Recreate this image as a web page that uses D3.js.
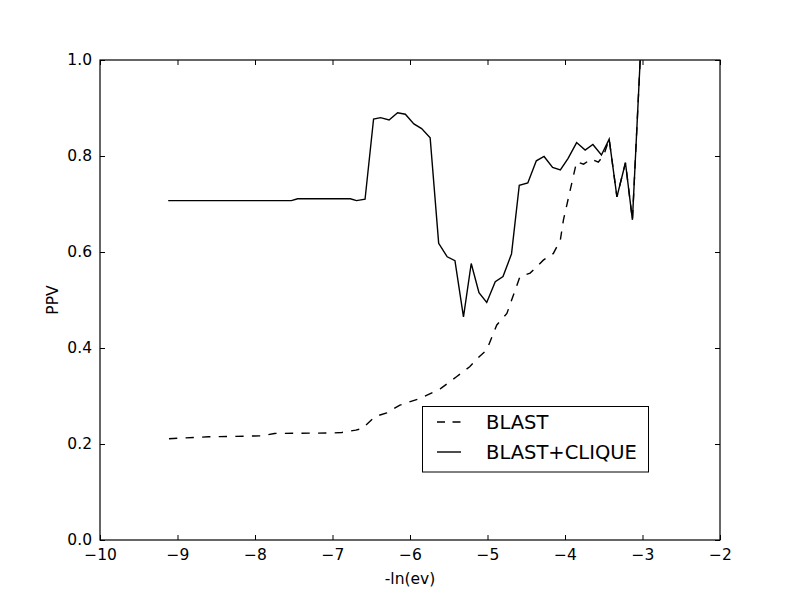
<!DOCTYPE html>
<html><head><meta charset="utf-8">
<script src="https://cdn.jsdelivr.net/npm/d3@7"></script>
<style>body{margin:0;background:#fff}text{font-family:"DejaVu Sans",sans-serif}</style>
</head><body>
<svg id="c" width="800" height="600"></svg>
<script>
const xTicks = [-10,-9,-8,-7,-6,-5,-4,-3,-2];
const yTicks = [0.0,0.2,0.4,0.6,0.8,1.0];
const seriesNames = ["BLAST","BLAST+CLIQUE"];

const blastX = [-9.11,-8.6,-7.9,-7.75,-7.0,-6.88,-6.70,-6.62,-6.45,-6.30,-6.13,-5.87,-5.61,-5.40,-5.23,-5.10,-5.01,-4.88,-4.75,-4.58,-4.45,-4.28,-4.15,-4.06,-4.02,-3.85,-3.76,-3.66,-3.57,-3.50,-3.43,-3.33,-3.22,-3.13,-3.03];
const blastY = [0.211,0.215,0.217,0.222,0.223,0.224,0.229,0.232,0.257,0.265,0.281,0.295,0.315,0.340,0.361,0.383,0.396,0.448,0.472,0.549,0.556,0.583,0.597,0.625,0.667,0.788,0.783,0.794,0.787,0.802,0.835,0.715,0.786,0.667,1.0];

const cliqueX = [-9.12,-7.53,-7.45,-6.77,-6.69,-6.58,-6.47,-6.38,-6.27,-6.16,-6.06,-5.95,-5.85,-5.74,-5.63,-5.52,-5.42,-5.31,-5.21,-5.11,-5.01,-4.90,-4.80,-4.69,-4.59,-4.48,-4.37,-4.27,-4.16,-4.06,-3.96,-3.85,-3.74,-3.64,-3.53,-3.43,-3.33,-3.22,-3.13,-3.03];
const cliqueY = [0.707,0.707,0.711,0.711,0.707,0.710,0.877,0.880,0.875,0.890,0.887,0.867,0.857,0.838,0.618,0.590,0.582,0.465,0.576,0.515,0.495,0.538,0.549,0.596,0.739,0.744,0.790,0.799,0.776,0.771,0.795,0.828,0.8125,0.824,0.802,0.835,0.715,0.786,0.667,1.0];

const L=100,R=720,T=60,B=540;
const svg=d3.select("#c");
const x=d3.scaleLinear().domain([-10,-2]).range([L,R]);
const y=d3.scaleLinear().domain([0,1]).range([B,T]);

svg.append("defs").append("clipPath").attr("id","clip").append("rect")
  .attr("x",L).attr("y",T).attr("width",R-L).attr("height",B-T);

const line=d3.line().x(d=>x(d[0])).y(d=>y(d[1]));
const g=svg.append("g").attr("clip-path","url(#clip)");
g.append("path").datum(blastX.map((v,i)=>[v,blastY[i]]))
  .attr("d",line).attr("fill","none").attr("stroke","#000").attr("stroke-width",1.4)
  .attr("stroke-dasharray","8.3,8.3");
g.append("path").datum(cliqueX.map((v,i)=>[v,cliqueY[i]]))
  .attr("d",line).attr("fill","none").attr("stroke","#000").attr("stroke-width",1.4);

const tl=5;
const xb=svg.append("g").attr("transform",`translate(0,${B})`)
  .call(d3.axisBottom(x).tickValues(xTicks).tickSizeInner(-tl).tickSizeOuter(0).tickPadding(9).tickFormat(d=>d3.format("d")(d).replace("-","\u2212")));
const xt=svg.append("g").attr("transform",`translate(0,${T})`)
  .call(d3.axisTop(x).tickValues(xTicks).tickSizeInner(-tl).tickSizeOuter(0).tickFormat(""));
const yl=svg.append("g").attr("transform",`translate(${L},0)`)
  .call(d3.axisLeft(y).tickValues(yTicks).tickSizeInner(-tl).tickSizeOuter(0).tickPadding(8).tickFormat(d3.format(".1f")));
const yr=svg.append("g").attr("transform",`translate(${R},0)`)
  .call(d3.axisRight(y).tickValues(yTicks).tickSizeInner(-tl).tickSizeOuter(0).tickFormat(""));
[xb,xt,yl,yr].forEach(a=>{a.select(".domain").remove();a.selectAll("line").attr("stroke","#000");
  a.selectAll("text").attr("font-family","DejaVu Sans").attr("font-size",15.5).attr("fill","#000");});

svg.append("rect").attr("x",L).attr("y",T).attr("width",R-L).attr("height",B-T)
  .attr("fill","none").attr("stroke","#000").attr("stroke-width",1.2);

svg.append("text").attr("x",(L+R)/2).attr("y",584).attr("text-anchor","middle")
  .attr("font-size",15.5).text("-ln(ev)");
svg.append("text").attr("transform","translate(58,300) rotate(-90)").attr("text-anchor","middle")
  .attr("font-size",15.5).text("PPV");

const lg=svg.append("g");
lg.append("rect").attr("x",422.5).attr("y",406.5).attr("width",226).attr("height",65.5)
  .attr("fill","#fff").attr("stroke","#000").attr("stroke-width",1);
const ly=[422,452];
lg.append("line").attr("x1",437).attr("x2",461).attr("y1",ly[0]).attr("y2",ly[0])
  .attr("stroke","#000").attr("stroke-width",1.4).attr("stroke-dasharray","8,7.5");
lg.append("line").attr("x1",437).attr("x2",461).attr("y1",ly[1]).attr("y2",ly[1])
  .attr("stroke","#000").attr("stroke-width",1.4);
seriesNames.forEach((n,i)=>lg.append("text").attr("x",486).attr("y",ly[i]+6.8)
  .attr("font-size",19.5).text(n));
</script>
</body></html>
